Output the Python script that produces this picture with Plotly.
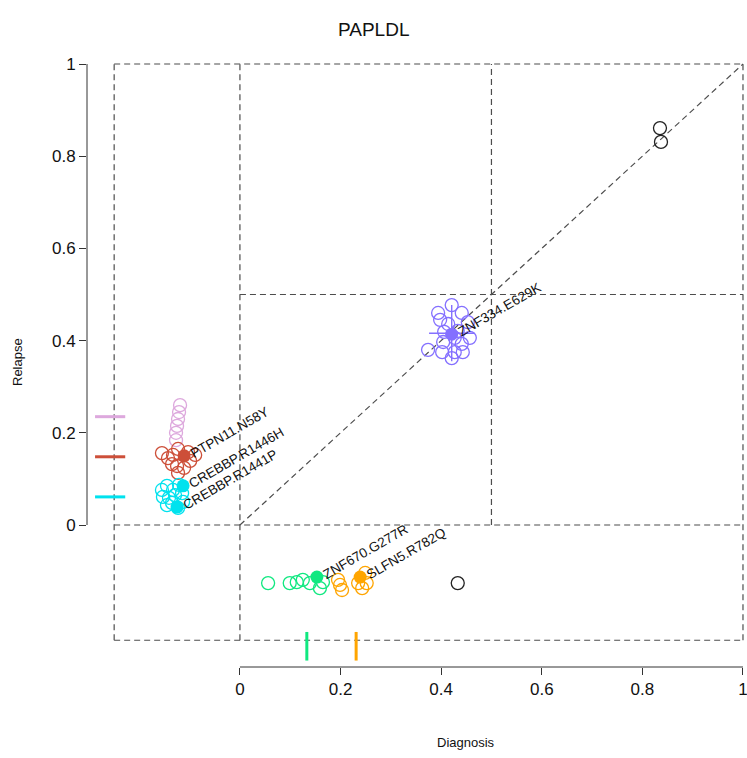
import plotly.graph_objects as go

# ---------------- data (VAF at diagnosis vs relapse) ----------------
title_text = "PAPLDL"
x_label = "Diagnosis"
y_label = "Relapse"
tick_vals = [0, 0.2, 0.4, 0.6, 0.8, 1]
tick_text = ["0", "0.2", "0.4", "0.6", "0.8", "1"]

# unclustered (black)
black_diag = [0.835, 0.837, 0.433]
black_rel = [0.861, 0.831, -0.126]

# relapse-only clusters (diagnosis absent, plotted near x=-0.125)
pink_diag = [-0.119, -0.121, -0.123, -0.125, -0.127, -0.127]
pink_rel = [0.260, 0.245, 0.230, 0.215, 0.200, 0.184]

red_diag = [-0.155, -0.143, -0.133, -0.123, -0.103, -0.089, -0.135, -0.125, -0.111, -0.123, -0.099]
red_rel = [0.156, 0.145, 0.152, 0.165, 0.158, 0.152, 0.132, 0.128, 0.124, 0.113, 0.139]

cyan_diag = [-0.155, -0.145, -0.133, -0.121, -0.153, -0.141, -0.129, -0.115, -0.145, -0.135, -0.113, -0.123]
cyan_rel = [0.076, 0.085, 0.076, 0.087, 0.061, 0.059, 0.065, 0.069, 0.043, 0.048, 0.050, 0.037]

# shared cluster (purple)
purple_diag = [0.421, 0.394, 0.398, 0.441, 0.414, 0.453, 0.433, 0.406, 0.427, 0.457,
               0.404, 0.441, 0.374, 0.402, 0.427, 0.443, 0.421]
purple_rel = [0.477, 0.460, 0.445, 0.460, 0.436, 0.440, 0.421, 0.419, 0.406, 0.406,
              0.397, 0.393, 0.380, 0.375, 0.375, 0.375, 0.362]

# diagnosis-only clusters (relapse absent, plotted near y=-0.125)
green_diag = [0.056, 0.099, 0.113, 0.125, 0.139, 0.159, 0.165]
green_rel = [-0.126, -0.126, -0.124, -0.119, -0.126, -0.137, -0.124]

orange_diag = [0.195, 0.199, 0.203, 0.249, 0.252, 0.243, 0.235]
orange_rel = [-0.119, -0.130, -0.141, -0.104, -0.126, -0.137, -0.126]

# highlighted (labelled) mutations
hl_names = ["PTPN11.N58Y", "CREBBP.R1446H", "CREBBP.R1441P", "ZNF334.E629K", "ZNF670.G277R", "SLFN5.R782Q"]
hl_diag = [-0.111, -0.113, -0.125, 0.421, 0.153, 0.239]
hl_rel = [0.150, 0.085, 0.039, 0.414, -0.113, -0.113]
hl_cluster = ["red", "cyan", "cyan", "purple", "green", "orange"]

# cluster means
rel_only_names = ["pink", "red", "cyan"]
rel_only_mean = [0.235, 0.148, 0.061]
diag_only_names = ["green", "orange"]
diag_only_mean = [0.133, 0.231]
purple_mean_diag = 0.421
purple_mean_rel = 0.416
purple_sd_diag = 0.045
purple_sd_rel = 0.061

colors = {
    "black": "#222222",
    "pink": "#DDA8DD",
    "red": "#CD4F39",
    "cyan": "#00E2EE",
    "purple": "#8470FF",
    "green": "#10E880",
    "orange": "#FFA500",
}

# ---------------- figure ----------------
FONT = "Liberation Sans, Arial, sans-serif"
DASH = "6px,4px"
GUIDE = "#4d4d4d"
fig = go.Figure()

def open_pts(xs, ys, col):
    fig.add_trace(go.Scatter(
        x=xs, y=ys, mode="markers", showlegend=False, hoverinfo="skip",
        marker=dict(symbol="circle-open", size=13, color=col, line=dict(width=1.3, color=col)),
    ))

# guide lines (dashed)
guides = [
    ((-0.25, 1), (1, 1)), ((-0.25, -0.25), (1, -0.25)),
    ((-0.25, -0.25), (-0.25, 1)), ((1, -0.25), (1, 1)),
    ((0, -0.25), (0, 1)), ((-0.25, 0), (1, 0)),
    ((0.5, 0), (0.5, 1)), ((0, 0.5), (1, 0.5)),
    ((0, 0), (1, 1)),
]
for (x0, y0), (x1, y1) in guides:
    fig.add_trace(go.Scatter(x=[x0, x1], y=[y0, y1], mode="lines", showlegend=False,
                             hoverinfo="skip", line=dict(color=GUIDE, width=1.2, dash=DASH)))

open_pts(black_diag, black_rel, colors["black"])
open_pts(pink_diag, pink_rel, colors["pink"])
open_pts(red_diag, red_rel, colors["red"])
open_pts(cyan_diag, cyan_rel, colors["cyan"])
open_pts(purple_diag, purple_rel, colors["purple"])
open_pts(green_diag, green_rel, colors["green"])
open_pts(orange_diag, orange_rel, colors["orange"])

# mean markers
for name, m in zip(rel_only_names, rel_only_mean):
    fig.add_trace(go.Scatter(x=[-0.288, -0.228], y=[m, m], mode="lines", showlegend=False,
                             hoverinfo="skip", line=dict(color=colors[name], width=3)))
for name, m in zip(diag_only_names, diag_only_mean):
    fig.add_trace(go.Scatter(x=[m, m], y=[-0.232, -0.294], mode="lines", showlegend=False,
                             hoverinfo="skip", line=dict(color=colors[name], width=3)))
fig.add_trace(go.Scatter(x=[purple_mean_diag - purple_sd_diag, purple_mean_diag + purple_sd_diag],
                         y=[purple_mean_rel, purple_mean_rel], mode="lines", showlegend=False,
                         hoverinfo="skip", line=dict(color=colors["purple"], width=1.4)))
fig.add_trace(go.Scatter(x=[purple_mean_diag, purple_mean_diag],
                         y=[purple_mean_rel - purple_sd_rel, purple_mean_rel + purple_sd_rel],
                         mode="lines", showlegend=False,
                         hoverinfo="skip", line=dict(color=colors["purple"], width=1.4)))

# highlighted filled points
fig.add_trace(go.Scatter(
    x=hl_diag, y=hl_rel, mode="markers", showlegend=False, hoverinfo="skip",
    marker=dict(symbol="circle", size=13, color=[colors[c] for c in hl_cluster], line=dict(width=0)),
))

# page layout (body margin removed in post_script): plot area at x 87..747, y 41..667
W, H = 747, 758
ML, MT, MB, MR = 87, 41, 91, 0
PX0, PY1 = ML, H - MB
PW, PH = W - ML - MR, H - MT - MB

def page_to_paper(px, py):
    return (px - PX0) / PW, (PY1 - py) / PH

annotations = []
for n, xd, yr in zip(hl_names, hl_diag, hl_rel):
    annotations.append(dict(x=xd, y=yr, xref="x", yref="y", text=n, showarrow=False,
                            textangle=-30, xanchor="left", yanchor="bottom",
                            xshift=1, yshift=-8,
                            font=dict(family=FONT, size=13.5, color="#111111")))

tx, ty = page_to_paper(373, 30)
annotations.append(dict(x=tx, y=ty, xref="paper", yref="paper", text=title_text,
                        xanchor="center", yanchor="middle", showarrow=False,
                        font=dict(family=FONT, size=19, color="#111111")))
dx, dy = page_to_paper(466, 742)
annotations.append(dict(x=dx, y=dy, xref="paper", yref="paper", text=x_label,
                        xanchor="center", yanchor="middle", showarrow=False,
                        font=dict(family=FONT, size=13, color="#111111")))
rx, ry = page_to_paper(18, 362)
annotations.append(dict(x=rx, y=ry, xref="paper", yref="paper", text=y_label,
                        xanchor="center", yanchor="middle", showarrow=False, textangle=-90,
                        font=dict(family=FONT, size=13, color="#111111")))

axis_common = dict(showgrid=False, zeroline=False, showline=False, ticks="outside", ticklen=7,
                   tickwidth=1, tickcolor="#333333", tickvals=tick_vals, ticktext=tick_text,
                   ticklabeloverflow="allow",
                   tickfont=dict(family=FONT, size=17, color="#111111"))

fig.update_layout(
    width=W, height=H,
    margin=dict(l=ML, r=MR, t=MT, b=MB, pad=0),
    plot_bgcolor="white", paper_bgcolor="white",
    xaxis=dict(range=[-0.304, 1.008], **axis_common),
    yaxis=dict(range=[-0.308, 1.0499], **axis_common),
    annotations=annotations,
    shapes=[
        dict(type="line", xref="paper", yref="y", x0=0, x1=0, y0=0, y1=1,
             line=dict(color="#333333", width=1)),
        dict(type="line", xref="x", yref="paper", x0=0, x1=1, y0=0, y1=0,
             line=dict(color="#333333", width=1)),
    ],
)

fig.write_html(
    "out.html",
    config={"displayModeBar": False},
    post_script="document.body.style.margin='0';document.body.style.overflow='hidden';",
)
